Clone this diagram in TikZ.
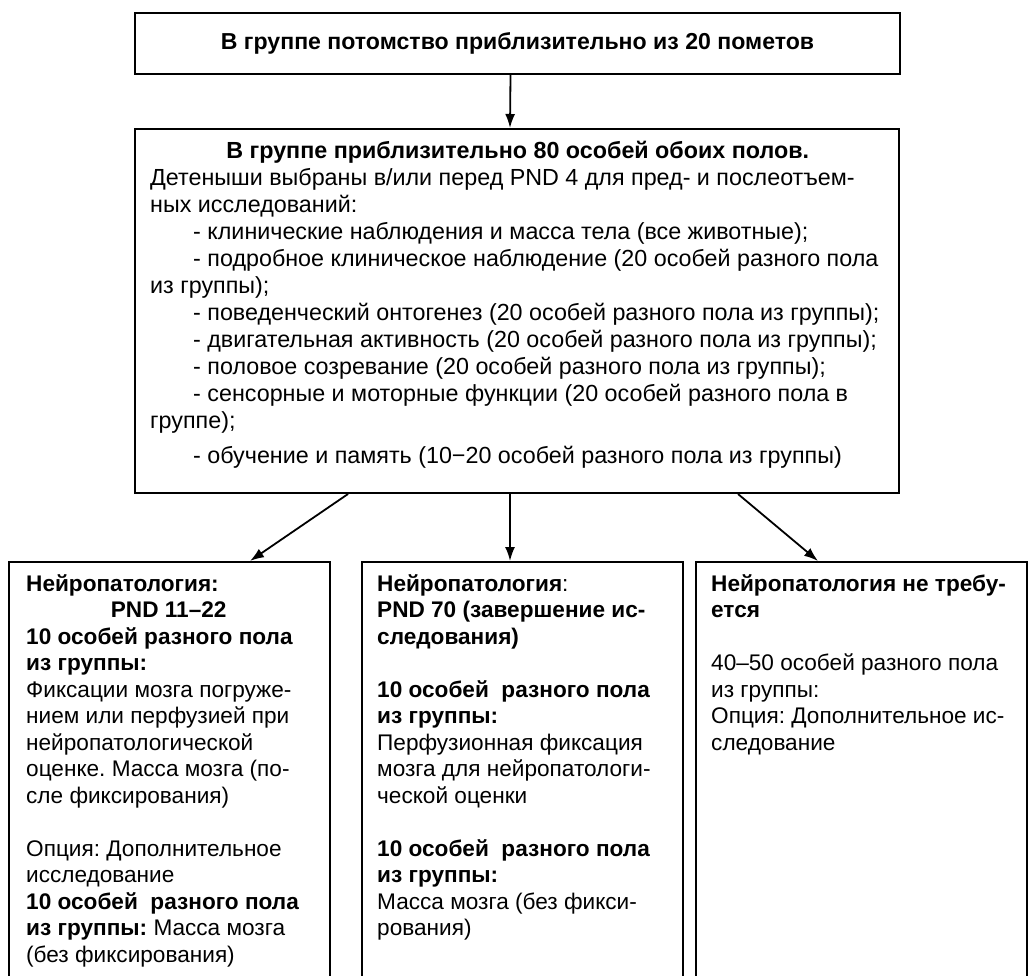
\documentclass[tikz,border=0pt]{standalone}
\usepackage{fontspec}
\setmainfont{Liberation Sans}
\usetikzlibrary{arrows.meta}
\frenchspacing

\begin{document}
\begin{tikzpicture}[x=1pt,y=1pt,
  frame/.style={draw,line width=2pt,anchor=north west,inner sep=0pt},
  txt/.style={anchor=north west,inner sep=0pt,align=left,
    font=\fontsize{22.6}{26.5}\selectfont},
  arr/.style={line width=1.8pt,-{Latex[length=14pt,width=10pt]}}]
\useasboundingbox (0,0) rectangle (1028,-976);
\node[frame,minimum width=765,minimum height=61,
  font=\bfseries\fontsize{23.1}{26}\selectfont] (litters) at (134,-12)
{В группе потомство приблизительно из 20 пометов};
\node[frame,minimum width=764,minimum height=364] (group) at (134,-128) {};
\node[frame,minimum width=321,minimum height=440] (patho) at (8,-561) {};
\node[frame,minimum width=321,minimum height=440] (patholate) at (361,-561) {};
\node[frame,minimum width=331,minimum height=440] (nopatho) at (695,-561) {};
\node[txt,font=\fontsize{23.3}{27}\selectfont] (grouptext)
  at ([shift={(16,-13)}]group.north west)
{\makebox[735pt][c]{\bfseries В группе приблизительно 80 особей обоих полов.}\\
Детеныши выбраны в/или перед PND 4 для пред- и послеотъем-\\
ных исследований:\\
\hspace*{43pt}- клинические наблюдения и масса тела (все животные);\\
\hspace*{43pt}- подробное клиническое наблюдение (20 особей разного пола\\
из группы);\\
\hspace*{43pt}- поведенческий онтогенез (20 особей разного пола из группы);\\
\hspace*{43pt}- двигательная активность (20 особей разного пола из группы);\\
\hspace*{43pt}- половое созревание (20 особей разного пола из группы);\\
\hspace*{43pt}- сенсорные и моторные функции (20 особей разного пола в\\
группе);\\[8pt]
\hspace*{43pt}- обучение и память (10−20 особей разного пола из группы)};
\node[txt] (pathotext) at ([shift={(18,-13)}]patho.north west)
{\textbf{Нейропатология:}\\
\makebox[285pt][c]{\bfseries PND 11–22}\\
\textbf{10 особей разного пола}\\
\textbf{из группы:}\\
Фиксации мозга погруже-\\
нием или перфузией при\\
нейропатологической\\
оценке. Масса мозга (по-\\
сле фиксирования)\\[26.5pt]
Опция: Дополнительное\\
исследование\\
\textbf{10 особей\ \ разного пола}\\
\textbf{из группы:} Масса мозга\\
(без фиксирования)};
\node[txt] (patholatetext) at ([shift={(16,-13)}]patholate.north west)
{\textbf{Нейропатология}:\\
\textbf{PND 70 (завершение ис-}\\
\textbf{следования)}\\[26.5pt]
\textbf{10 особей\ \ разного пола}\\
\textbf{из группы:}\\
Перфузионная фиксация\\
мозга для нейропатологи-\\
ческой оценки\\[26.5pt]
\textbf{10 особей\ \ разного пола}\\
\textbf{из группы:}\\
Масса мозга (без фикси-\\
рования)};
\node[txt] (nopathotext) at ([shift={(16,-13)}]nopatho.north west)
{\textbf{Нейропатология не требу-}\\
\textbf{ется}\\[26.5pt]
40–50 особей разного пола\\
из группы:\\
Опция: Дополнительное ис-\\
следование};
\draw[arr] ([xshift=-7]litters.south) -- ([xshift=-7]group.north);
\draw[arr] ([xshift=214]group.south west) -- ([xshift=242]patho.north west);
\draw[arr] ([xshift=-7]group.south) -- ([xshift=-7]group.south |- patholate.north);
\draw[arr] ([xshift=604]group.south west) -- ([xshift=123]nopatho.north west);
\end{tikzpicture}
\end{document}
